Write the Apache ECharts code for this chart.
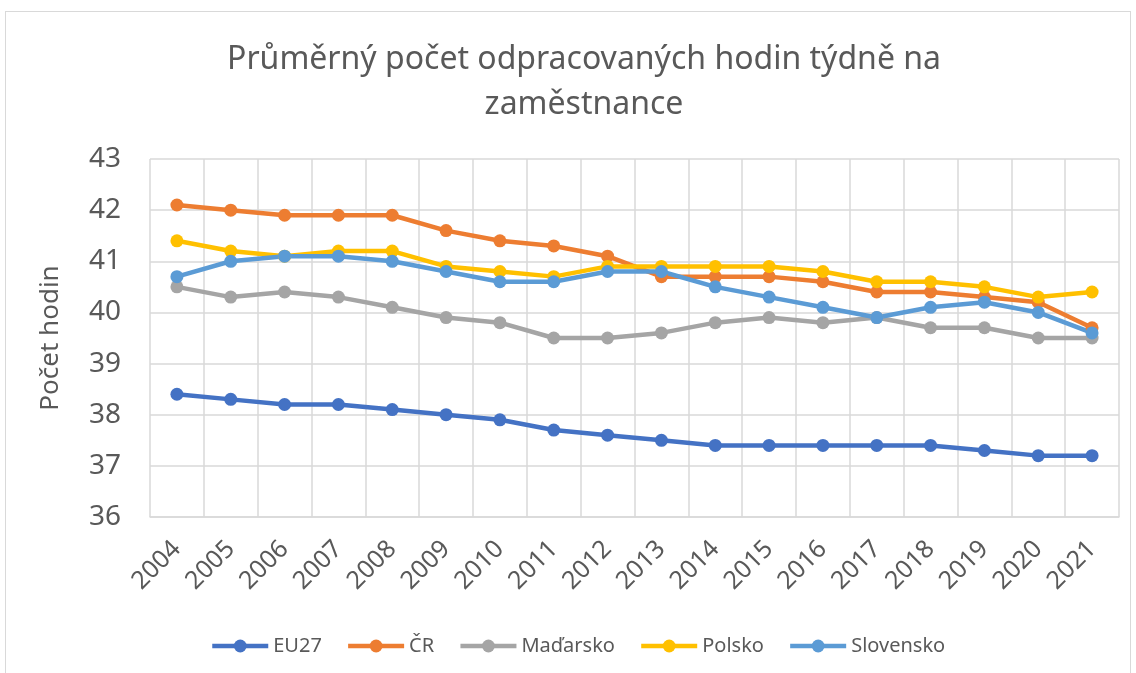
<!DOCTYPE html>
<html>
<head>
<meta charset="utf-8">
<script src="https://cdn.jsdelivr.net/npm/echarts@6/dist/echarts.min.js"></script>
<style>
  html, body { margin: 0; padding: 0; background: #fff; }
  #frame { position: absolute; left: 5px; top: 11px; width: 1126px; height: 670px; border: 1px solid #d9d9d9; box-sizing: border-box; }
  #main { position: absolute; left: 0; top: 0; width: 1136px; height: 673px; }
</style>
</head>
<body>
<div id="frame"></div>
<div id="main"></div>
<script>
const years = ['2004', '2005', '2006', '2007', '2008', '2009', '2010', '2011', '2012', '2013', '2014', '2015', '2016', '2017', '2018', '2019', '2020', '2021'];
const eu27 = [38.4, 38.3, 38.2, 38.2, 38.1, 38.0, 37.9, 37.7, 37.6, 37.5, 37.4, 37.4, 37.4, 37.4, 37.4, 37.3, 37.2, 37.2];
const cr = [42.1, 42.0, 41.9, 41.9, 41.9, 41.6, 41.4, 41.3, 41.1, 40.7, 40.7, 40.7, 40.6, 40.4, 40.4, 40.3, 40.2, 39.7];
const madarsko = [40.5, 40.3, 40.4, 40.3, 40.1, 39.9, 39.8, 39.5, 39.5, 39.6, 39.8, 39.9, 39.8, 39.9, 39.7, 39.7, 39.5, 39.5];
const polsko = [41.4, 41.2, 41.1, 41.2, 41.2, 40.9, 40.8, 40.7, 40.9, 40.9, 40.9, 40.9, 40.8, 40.6, 40.6, 40.5, 40.3, 40.4];
const slovensko = [40.7, 41.0, 41.1, 41.1, 41.0, 40.8, 40.6, 40.6, 40.8, 40.8, 40.5, 40.3, 40.1, 39.9, 40.1, 40.2, 40.0, 39.6];

const seriesNames = ['EU27', 'ČR', 'Maďarsko', 'Polsko', 'Slovensko'];
const seriesData = [eu27, cr, madarsko, polsko, slovensko];
const seriesColors = ['#4472C4', '#ED7D31', '#A5A5A5', '#FFC000', '#5B9BD5'];

const FONT = '"Noto Sans", sans-serif';
const TXT = '#595959';

const chart = echarts.init(document.getElementById('main'));
chart.setOption({
    animation: false,
    title: {
        text: 'Průměrný počet odpracovaných hodin týdně na\nzaměstnance',
        left: 579,
        textAlign: 'center',
        top: 32,
        textStyle: { fontFamily: FONT, fontSize: 32, fontWeight: 'normal', color: TXT, lineHeight: 45 }
    },
    legend: {
        data: seriesNames,
        bottom: 12,
        left: 205,
        itemWidth: 56,
        itemHeight: 16,
        itemGap: 24,
        lineStyle: { width: 4.5 },
        textStyle: { fontFamily: FONT, fontSize: 20, color: TXT }
    },
    grid: { left: 150, right: 17, top: 159, bottom: 156 },
    xAxis: {
        type: 'category',
        data: years,
        boundaryGap: true,
        axisLine: { lineStyle: { color: '#d9d9d9', width: 1.5 } },
        axisTick: { show: false },
        splitLine: { show: true, lineStyle: { color: '#d9d9d9', width: 1.5 } },
        axisLabel: { rotate: 45, interval: 0, margin: 28, fontFamily: FONT, fontSize: 25, color: TXT }
    },
    yAxis: {
        type: 'value',
        min: 36,
        max: 43,
        interval: 1,
        name: 'Počet hodin',
        nameLocation: 'middle',
        nameGap: 86,
        nameTextStyle: { fontFamily: FONT, fontSize: 26, color: TXT },
        axisLine: { show: false },
        axisTick: { show: false },
        splitLine: { lineStyle: { color: '#d9d9d9', width: 1.5 } },
        axisLabel: { margin: 29, fontFamily: FONT, fontSize: 28, color: TXT }
    },
    series: seriesNames.map((name, i) => ({
        name: name,
        type: 'line',
        data: seriesData[i],
        symbol: 'circle',
        symbolSize: 13,
        lineStyle: { color: seriesColors[i], width: 4.5 },
        itemStyle: { color: seriesColors[i] }
    }))
});
</script>
</body>
</html>
